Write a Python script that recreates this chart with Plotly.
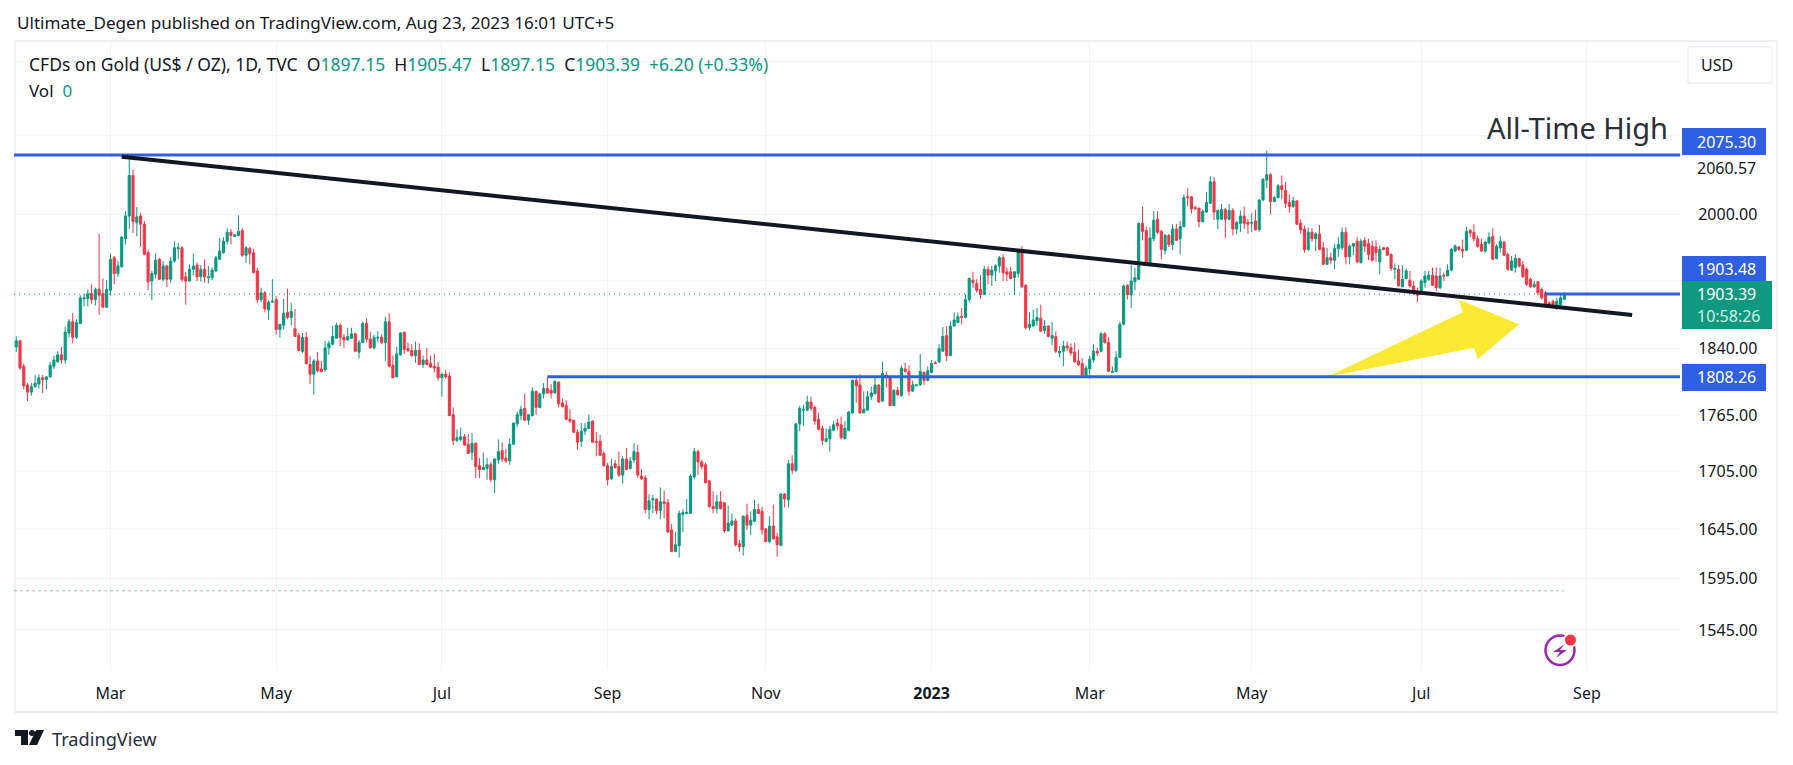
import pandas as pd
import plotly.graph_objects as go

# daily OHLC, oldest first
opens = [
    1842,1849,1820,1799,1791,1797,1800,1807,1805,1808,
    1820,1825,1833,1827,1858,1871,1853,1869,1898,1898,
    1904,1897,1909,1904,1888,1908,1947,1928,1936,1970,
    1998,2049,1990,1998,1988,1953,1919,1927,1945,1921,
    1937,1921,1943,1958,1959,1924,1919,1933,1938,1924,
    1933,1923,1923,1931,1945,1953,1967,1978,1973,1974,
    1980,1950,1958,1953,1931,1897,1905,1885,1894,1897,
    1862,1867,1882,1876,1863,1855,1837,1853,1822,1811,
    1826,1817,1816,1841,1845,
    1852,1867,1853,1850,1852,1857,1836,1847,1869,1851,
    1841,1852,1853,1847,1871,1821,1808,1833,1859,1840,
    1838,1832,1838,1822,1827,1823,1820,1819,1807,1811,
    1809,1766,1738,1739,1742,1734,1725,1735,1711,1707,
    1708,1712,1696,1717,1727,1719,1716,1734,1756,1765,
    1773,1760,1765,1792,1774,1789,1795,1793,1790,1802,
    1779,1776,1761,1760,1747,1737,1748,1751,1759,1737,
    1737,1724,1711,1697,1713,1710,1701,1718,1708,1717,
    1725,1700,
    1698,1665,1675,
    1676,1664,1673,1672,1644,1622,1628,1660,1661,1661,
    1699,1726,1715,1712,1695,1668,1666,1673,1672,1643,
    1649,1653,1630,1627,1659,1649,1653,1665,1663,1645,
    1632,1648,1637,1628,1681,1675,1713,1706,1756,1771,
    1771,1780,1774,1761,1751,1737,1740,1749,1757,1755,
    1740,1749,1768,1804,1799,1768,1771,1786,1789,1799,
    1781,1810,1808,1776,1793,1787,1817,1814,1792,1798,
    1799,1813,1804,1813,1824,1825,1837,1855,1832,
    1866,1870,1877,1876,1897,1920,1916,1909,1903,1933,
    1926,1931,1937,1947,1930,1930,1923,1928,1952,1914,
    1864,1866,1872,1875,1861,1866,1852,1854,1835,1837,
    1843,1841,1836,1826,1823,1809,1817,1827,1837,1837,
    1857,1847,1813,1814,1830,1868,1914,1903,1918,
    1921,1989,1980,1938,1970,1994,1979,1956,1974,1963,
    1982,1970,1985,2022,2022,2009,2008,1991,2003,2014,
    2041,1994,1994,2006,1994,2005,1982,1989,1998,1990,
    1989,1992,1981,2018,2043,2050,2016,2021,2036,2030,
    2015,2010,2017,1989,1982,1957,1978,1970,1976,1959,
    1939,1947,1944,1958,1959,1978,1948,1961,
    1967,1941,1968,1964,1961,1960,1942,1959,1959,1951,
    1933,1933,1912,1922,1920,1913,1907,1905,1917,1921,
    1926,1925,1911,1926,1925,1932,1955,1960,1957,1956,
    1980,1978,1970,1963,1955,1965,1973,1946,1959,1966,
    1951,1932,1935,1946,1938,1933,1921,1912,1918,1909,
    1905,1893,1895,1886,1891,1897.15,
]
highs = [
    1854,1850,1823,1801,1801,1810,1811,1810,1809,1825,
    1832,1837,1842,1865,1874,1881,1874,1902,1904,1909,
    1915,1911,1976,1922,1920,1952,1949,1943,1973,2004,
    2075,2057,2009,2002,1992,1957,1931,1952,1947,1943,
    1938,1948,1967,1965,1961,1930,1939,1952,1941,1938,
    1945,1937,1935,1949,1971,1972,1983,1982,1976,1999,
    1983,1961,1960,1958,1935,1911,1907,1896,1921,1901,
    1868,1898,1910,1893,1886,1858,1858,1859,1832,1828,
    1836,1826,1849,1849,1866,
    1870,1869,1857,1864,1864,1858,1850,1871,1875,1859,
    1856,1860,1857,1877,1881,1832,1842,1859,1859,1847,
    1845,1848,1846,1832,1841,1832,1834,1825,1813,1816,
    1813,1774,1750,1752,1745,1745,1746,1736,1719,1725,
    1719,1715,1719,1739,1736,1729,1740,1757,1769,1776,
    1789,1766,1796,1792,1790,1801,1808,1800,1804,1803,
    1784,1782,1772,1760,1750,1757,1757,1766,1760,1747,
    1744,1726,1714,1718,1717,1726,1721,1730,1720,1735,
    1733,1707,
    1701,1681,1680,
    1676,1688,1685,1676,1650,1642,1664,1665,1676,1702,
    1730,1728,1717,1714,1695,1684,1680,1684,1672,1669,
    1661,1656,1634,1659,1671,1663,1675,1671,1668,1646,
    1658,1670,1641,1682,1682,1717,1722,1757,1776,1777,
    1787,1786,1776,1768,1754,1751,1754,1759,1762,1764,
    1759,1770,1805,1807,1811,1792,1792,1797,1807,1799,
    1825,1814,1808,1794,1797,1821,1824,1821,1804,1799,
    1834,1814,1820,1827,1826,1845,1865,1866,1872,
    1882,1882,1887,1903,1923,1930,1921,1926,1937,1937,
    1937,1939,1949,1951,1935,1936,1931,1954,1961,1915,
    1882,1885,1887,1891,1873,1867,1871,1860,1843,1849,
    1848,1846,1847,1839,1829,1821,1832,1845,1841,1859,
    1859,1853,1820,1837,1871,1915,1915,1938,1935,
    1990,2010,1985,1984,2004,2004,1981,1976,1976,1988,
    1988,1992,2025,2033,2023,2010,2008,2006,2028,2048,
    2047,2006,2013,2008,2013,2008,1992,2005,2010,1994,
    2002,2006,2019,2046,2081,2052,2023,2038,2049,2041,
    2025,2022,2017,1994,1986,1984,1983,1978,1987,1966,
    1959,1953,1964,1972,1984,1984,1963,1965,
    1972,1970,1972,1970,1968,1968,1962,1960,1960,1952,
    1940,1938,1938,1934,1931,1919,1911,1921,1931,1931,
    1935,1935,1935,1929,1939,1959,1963,1961,1969,1985,
    1982,1988,1974,1970,1967,1978,1983,1963,1973,1967,
    1953,1949,1951,1947,1943,1935,1923,1919,1919,1911,
    1907,1895,1897,1899,1903,1905.47,
]
lows = [
    1836,1816,1794,1781,1787,1796,1795,1790,1794,1807,
    1817,1824,1823,1823,1853,1846,1851,1869,1889,1889,
    1892,1890,1879,1888,1887,1902,1915,1924,1935,1963,
    1982,1977,1973,1960,1950,1908,1896,1922,1921,1918,
    1912,1917,1941,1945,1918,1891,1918,1926,1919,1918,
    1917,1916,1920,1930,1945,1952,1963,1963,1973,1973,
    1948,1941,1939,1928,1893,1894,1882,1873,1893,1856,
    1853,1862,1874,1867,1854,1837,1835,1822,1800,1788,
    1813,1813,1814,1833,1844,
    1851,1843,1841,1849,1851,1836,1829,1846,1847,1840,
    1839,1847,1845,1826,1819,1807,1808,1832,1834,1836,
    1831,1824,1822,1818,1821,1819,1813,1804,1786,1806,
    1765,1733,1736,1737,1732,1724,1717,1698,1698,1706,
    1696,1694,1682,1713,1715,1714,1712,1733,1753,1760,
    1759,1755,1764,1766,1773,1784,1789,1784,1789,1774,
    1774,1760,1757,1746,1728,1731,1744,1750,1736,1721,
    1722,1710,1690,1696,1708,1699,1692,1706,1707,1714,
    1698,1696,
    1661,1655,1661,
    1660,1655,1656,1641,1622,1622,1616,1642,1660,1661,
    1697,1701,1707,1692,1667,1661,1661,1665,1641,1643,
    1648,1627,1622,1618,1644,1639,1652,1661,1639,1632,
    1631,1634,1617,1628,1667,1667,1702,1704,1748,1754,
    1770,1770,1755,1749,1733,1736,1726,1748,1749,1739,
    1739,1748,1767,1779,1767,1768,1770,1782,1789,1779,
    1780,1796,1776,1776,1787,1786,1813,1787,1792,1798,
    1798,1799,1803,1812,1823,1824,1837,1826,1832,
    1865,1870,1868,1875,1894,1911,1905,1898,1902,1915,
    1913,1919,1929,1919,1919,1921,1902,1923,1911,1862,
    1861,1865,1866,1860,1857,1853,1844,1835,1830,1820,
    1837,1832,1824,1820,1809,1808,1806,1824,1832,1836,
    1846,1814,1812,1814,1829,1867,1897,1887,1908,
    1920,1968,1937,1936,1967,1976,1945,1951,1960,1956,
    1968,1951,1984,2010,2001,2006,1984,1990,2002,2013,
    1993,1982,1993,1971,1993,1974,1976,1978,1982,1976,
    1978,1980,1979,2017,2033,2000,2015,2020,2019,2008,
    2002,2008,1987,1976,1953,1955,1966,1955,1956,1939,
    1938,1939,1933,1948,1956,1939,1939,1950,
    1940,1940,1954,1944,1942,1942,1927,1956,1949,1931,
    1921,1913,1912,1921,1911,1902,1894,1902,1911,1919,
    1913,1907,1909,1919,1925,1931,1954,1955,1947,1955,
    1972,1967,1959,1954,1953,1963,1944,1945,1953,1949,
    1931,1931,1929,1935,1923,1913,1911,1911,1902,1897,
    1889,1887,1887,1886,1890,1897.15,
]
closes = [
    1849,1818,1798,1791,1797,1801,1807,1805,1808,1821,
    1827,1833,1827,1859,1871,1853,1870,1899,1899,1904,
    1897,1909,1902,1888,1909,1945,1928,1937,1972,1998,
    2049,1991,1997,1988,1951,1918,1928,1944,1921,1937,
    1921,1943,1959,1959,1921,1919,1933,1937,1924,1933,
    1924,1924,1932,1947,1955,1967,1978,1974,1975,1979,
    1950,1959,1952,1929,1897,1905,1886,1894,1895,1862,
    1868,1881,1876,1883,1854,1838,1853,1823,1811,1826,
    1815,1814,1841,1846,1854,
    1867,1853,1850,1854,1857,1837,1847,1869,1851,1841,
    1853,1853,1847,1871,1820,1807,1834,1858,1839,1838,
    1832,1838,1822,1827,1822,1819,1818,1807,1811,1808,
    1765,1738,1741,1742,1733,1724,1735,1710,1707,1709,
    1712,1696,1718,1726,1718,1716,1734,1757,1766,1772,
    1760,1766,1792,1774,1789,1795,1790,1790,1803,1778,
    1775,1761,1759,1747,1736,1748,1751,1758,1736,1736,
    1722,1711,1696,1710,1709,1701,1718,1707,1716,1726,
    1701,1697,
    1665,1674,1676,
    1664,1673,1671,1642,1622,1629,1661,1662,1662,1700,
    1726,1715,1710,1693,1668,1666,1673,1666,1643,1651,
    1653,1629,1627,1658,1649,1654,1665,1661,1644,1632,
    1648,1635,1629,1681,1676,1713,1706,1756,1773,1772,
    1780,1773,1759,1750,1738,1740,1750,1755,1754,1741,
    1751,1769,1804,1798,1768,1772,1786,1790,1799,1780,
    1812,1807,1776,1793,1788,1818,1814,1792,1799,1799,
    1814,1804,1815,1823,1823,1840,1854,1832,1866,
    1873,1877,1876,1897,1922,1917,1908,1903,1933,1926,
    1932,1937,1947,1929,1927,1922,1930,1953,1912,1864,
    1868,1873,1876,1860,1866,1854,1855,1837,1837,1843,
    1841,1835,1825,1822,1810,1818,1828,1837,1835,1857,
    1847,1814,1814,1830,1868,1913,1903,1919,1923,
    1989,1979,1939,1971,1993,1978,1957,1974,1963,1982,
    1968,1985,2021,2021,2007,2007,1991,2004,2015,2041,
    2003,2005,2006,1994,2005,1982,1990,1998,1989,1988,
    1990,1981,2018,2044,2050,2016,2021,2036,2031,2014,
    2010,2017,1988,1981,1957,1978,1970,1976,1957,1939,
    1947,1944,1958,1963,1978,1948,1961,1964,
    1942,1967,1961,1951,1944,1953,1957,1957,1950,1934,
    1934,1913,1921,1931,1913,1907,1902,1919,1925,1926,
    1914,1911,1925,1925,1932,1957,1961,1957,1955,1979,
    1977,1970,1961,1955,1966,1972,1945,1961,1967,1950,
    1933,1943,1946,1937,1924,1915,1912,1915,1905,1899,
    1891,1889,1891,1895,1899,1903.39,
]

price_ticks = [2200, 2100, 2000, 1920, 1840, 1765, 1705, 1645, 1595, 1545]
price_labels = ['', '', '2000.00', '', '1840.00', '1765.00', '1705.00', '1645.00', '1595.00', '1545.00']
month_ticks = ['2022-03-01', '2022-05-02', '2022-07-01', '2022-09-01', '2022-11-01',
               '2023-01-02', '2023-03-01', '2023-05-01', '2023-07-03', '2023-09-01']
month_labels = ['Mar', 'May', 'Jul', 'Sep', 'Nov', '<b>2023</b>', 'Mar', 'May', 'Jul', 'Sep']

ath_level = 2075.30
support_level = 1808.26
ask_level = 1903.48
last_close = 1903.39
dashed_level = 1583

trend_bars = [28, 429]
trend_prices = [2073, 1879]
arrow_bars = [348, 384, 383, 399, 388, 387]
arrow_prices = [1808, 1882, 1897, 1868, 1828, 1841]

UP = '#089981'
DOWN = '#F23645'
BLUE = '#2F5FE3'
FONT = 'Noto Sans'
TEXT = '#131722'
GRID = '#F3F4F7'

# trading days, Labor Day 2022 has no bar
holiday = '2022-09-05'
days = pd.bdate_range('2022-01-25', '2023-10-31')
days = days[days != pd.Timestamp(holiday)]
bar_dates = days[:len(closes)]
x_left = '2022-01-24 09:36'
x_right = '2023-10-05 17:00'

W, H = 1793, 765
L, R, T, B = 14, 1680, 41, 670


def px(x):
    return (x - L) / (R - L)


def py(y):
    return (B - y) / (B - T)


def box(x0, y0, x1, y1, **kw):
    return dict(type='rect', xref='paper', yref='paper',
                x0=px(x0), x1=px(x1), y0=py(y0), y1=py(y1), **kw)


def poly(points, color):
    d = 'M' + ' L'.join(f'{px(a):.5f},{py(b):.5f}' for a, b in points) + ' Z'
    return dict(type='path', xref='paper', yref='paper', path=d,
                fillcolor=color, line=dict(width=0), layer='above')


def label(x, y, text, size=16, color=TEXT, anchor='center', **kw):
    return dict(x=px(x), y=py(y), xref='paper', yref='paper', text=text, showarrow=False,
                xanchor=anchor, yanchor='middle', align='left',
                font=dict(family=FONT, size=size, color=color), **kw)


fig = go.Figure()

fig.add_trace(go.Scatter(x=[x_left, x_right], y=[last_close, last_close], mode='lines',
                         line=dict(color=UP, width=1, dash='1px,4px'), hoverinfo='skip'))
fig.add_trace(go.Scatter(x=[x_left, bar_dates[-1]], y=[dashed_level, dashed_level], mode='lines',
                         line=dict(color='#7cc8b8', width=1, dash='3px,9px'), hoverinfo='skip'))
fig.add_trace(go.Scatter(x=[x_left, bar_dates[-1]], y=[dashed_level, dashed_level], mode='lines',
                         line=dict(color='#eaa0aa', width=1, dash='0px,6px,3px,3px'), hoverinfo='skip'))

fig.add_trace(go.Candlestick(
    x=bar_dates, open=opens, high=highs, low=lows, close=closes,
    increasing=dict(line=dict(color=UP, width=1), fillcolor=UP),
    decreasing=dict(line=dict(color=DOWN, width=1), fillcolor=DOWN),
    whiskerwidth=0, hoverinfo='skip',
))

fig.add_trace(go.Scatter(x=[days[i] for i in arrow_bars], y=arrow_prices, mode='lines', fill='toself',
                         fillcolor='#FCE934', line=dict(color='#FCE934', width=0), hoverinfo='skip'))

fig.add_trace(go.Scatter(x=[x_left, x_right], y=[ath_level, ath_level], mode='lines',
                         line=dict(color=BLUE, width=3), hoverinfo='skip'))
fig.add_trace(go.Scatter(x=[days[141], x_right], y=[support_level, support_level], mode='lines',
                         line=dict(color=BLUE, width=3), hoverinfo='skip'))
fig.add_trace(go.Scatter(x=[days[406], x_right], y=[ask_level, ask_level], mode='lines',
                         line=dict(color=BLUE, width=3), hoverinfo='skip'))
fig.add_trace(go.Scatter(x=[days[i] for i in trend_bars], y=trend_prices, mode='lines',
                         line=dict(color='#131722', width=4), hoverinfo='skip'))

shapes = [
    box(15, 41, 1777, 712, line=dict(color='#EEEFF2', width=2), fillcolor='rgba(0,0,0,0)', layer='below'),
    box(1688, 47, 1772, 83, line=dict(color='#E6E8EE', width=1), fillcolor='white', layer='above'),
    box(1682, 128, 1766, 155, line=dict(width=0), fillcolor=BLUE, layer='above'),
    box(1682, 256, 1766, 282, line=dict(width=0), fillcolor=BLUE, layer='above'),
    box(1682, 364, 1766, 391, line=dict(width=0), fillcolor=BLUE, layer='above'),
    box(1682, 281, 1772, 329, line=dict(width=0), fillcolor='#0F9A80', layer='above'),
    # TradingView mark
    poly([(15, 730), (28, 730), (28, 745), (21, 745), (21, 736), (15, 736)], '#131722'),
    poly([(36, 730), (44, 730), (37, 745), (29, 745)], '#131722'),
    dict(type='circle', xref='paper', yref='paper', x0=px(29), x1=px(35), y0=py(736), y1=py(730),
         fillcolor='#131722', line=dict(width=0)),
    # purple bolt badge
    dict(type='circle', xref='paper', yref='paper', x0=px(1545.5), x1=px(1574.5), y0=py(665), y1=py(635.5),
         fillcolor='white', line=dict(color='#9C27B0', width=2.5)),
    poly([(1565, 644), (1553, 652), (1560, 652), (1556, 658), (1567, 650), (1560, 650)], '#9C27B0'),
    dict(type='circle', xref='paper', yref='paper', x0=px(1564), x1=px(1577), y0=py(646.5), y1=py(633.5),
         fillcolor='#F23645', line=dict(color='white', width=2)),
]

g = f'color:{UP}'
legend_line = (f'CFDs on Gold (US$ / OZ), 1D, TVC\u00a0\u00a0O<span style="{g}">1897.15</span>\u00a0\u00a0'
               f'H<span style="{g}">1905.47</span>\u00a0\u00a0L<span style="{g}">1897.15</span>\u00a0\u00a0'
               f'C<span style="{g}">1903.39</span>\u00a0\u00a0<span style="{g}">+6.20 (+0.33%)</span>')

annotations = [
    label(15, 23, 'Ultimate_Degen published on TradingView.com, Aug 23, 2023 16:01 UTC+5', size=17.1, anchor='left'),
    label(27, 64, legend_line, size=17.5, anchor='left'),
    label(27, 90, f'Vol\u00a0\u00a0<span style="{g}">0</span>', size=17, anchor='left'),
    label(1577, 128, 'All-Time High', size=29, color='#2A2E39'),
    label(1717, 65, 'USD', size=16),
    label(1726, 142, '2075.30', color='white'),
    label(1726, 168, '2060.57'),
    label(1726, 269, '1903.48', color='white'),
    label(1726, 294, '1903.39', color='white'),
    label(1729, 316, '10:58:26', color='#D2EEE8'),
    label(1726, 377, '1808.26', color='white'),
    label(50, 739, 'TradingView', size=18.2, color='#2A2E39', anchor='left'),
]

fig.update_layout(
    width=W, height=H,
    margin=dict(l=L, r=W - R, t=T, b=H - B, pad=0, autoexpand=False),
    paper_bgcolor='white', plot_bgcolor='white',
    showlegend=False,
    boxgap=0.2,
    hovermode=False,
    shapes=shapes,
    annotations=annotations,
)
fig.update_xaxes(
    type='date', range=[x_left, x_right],
    rangebreaks=[dict(bounds=['sat', 'mon']), dict(values=[holiday])],
    rangeslider=dict(visible=False),
    tickmode='array', tickvals=month_ticks, ticktext=month_labels,
    ticks='outside', ticklen=9, tickcolor='white',
    tickfont=dict(family=FONT, size=16, color=TEXT),
    showgrid=True, gridcolor=GRID, gridwidth=1, zeroline=False, showline=False,
)
fig.update_yaxes(
    type='log', side='right', range=[3.17811, 3.34783],
    tickmode='array', tickvals=price_ticks, ticktext=price_labels,
    ticks='outside', ticklen=14, tickcolor='white',
    tickfont=dict(family=FONT, size=16, color=TEXT),
    showgrid=True, gridcolor=GRID, gridwidth=1, zeroline=False, showline=False,
)

fig.write_html('out.html', config=dict(displayModeBar=False),
               post_script="document.body.style.margin='0';")
